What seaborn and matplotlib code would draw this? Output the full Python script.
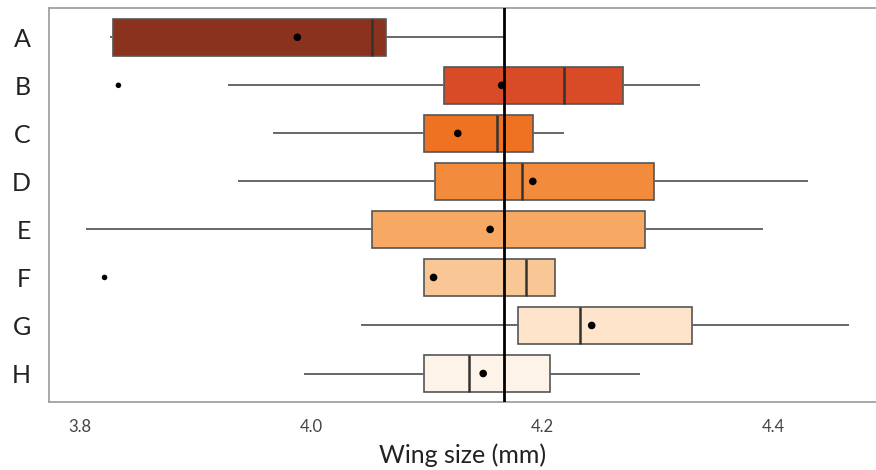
import pandas as pd
import seaborn as sns
import numpy as np
import matplotlib.pyplot as plt

# five number summaries (whisker low, q1, median, q3, whisker high)
groups = ['A', 'B', 'C', 'D', 'E', 'F', 'G', 'H']
whisk_lo = [3.826, 3.928, 3.967, 3.937, 3.805, 4.098, 4.043, 3.994]
q1 = [3.828, 4.115, 4.098, 4.107, 4.053, 4.098, 4.179, 4.098]
median = [4.053, 4.219, 4.161, 4.183, 4.167, 4.186, 4.233, 4.137]
q3 = [4.065, 4.270, 4.192, 4.297, 4.289, 4.211, 4.330, 4.207]
whisk_hi = [4.168, 4.337, 4.219, 4.430, 4.391, 4.211, 4.466, 4.285]
means = [3.988, 4.165, 4.127, 4.192, 4.155, 4.106, 4.243, 4.149]
outlier_group = ['B', 'F']
outlier_val = [3.833, 3.821]
ref_line = 4.167

colors = ['#8B321E', '#D94A26', '#EE7222', '#F38B3C', '#F7A862',
          '#F9C795', '#FEE4CB', '#FEF3E9']

rows = []
for i, g in enumerate(groups):
    for v in [whisk_lo[i], q1[i], median[i], q3[i], whisk_hi[i]]:
        rows.append({'group': g, 'size': v})
dta = pd.DataFrame(rows)
mean_df = pd.DataFrame({'group': groups, 'size': means})
out_df = pd.DataFrame({'group': outlier_group, 'size': outlier_val})

sns.set_style('white')
plt.rcParams['font.family'] = ['Lato', 'DejaVu Sans']

fig = plt.figure(figsize=(8.76, 4.70), dpi=100)
ax = fig.add_axes([0.0556, 0.144, 0.944, 0.838])

sns.boxplot(data=dta, x='size', y='group', hue='group', palette=colors,
            order=groups, width=0.76, whis=(0, 100), showfliers=False,
            saturation=1, legend=False, ax=ax, linecolor='#555555', linewidth=1.2,
            medianprops={'color': '#333333', 'linewidth': 1.8},
            whiskerprops={'color': '#666666', 'linewidth': 1.4},
            capprops={'linewidth': 0})
ax.axvline(ref_line, color='black', linewidth=2, zorder=5)
sns.scatterplot(data=mean_df, x='size', y='group', color='black', s=30,
                edgecolor='none', ax=ax, zorder=6)
sns.scatterplot(data=out_df, x='size', y='group', color='black', s=16,
                edgecolor='none', ax=ax, zorder=6)

ax.set_xlim(3.7726, 4.489)
ax.set_ylim(7.6, -0.6)
ax.set_xticks([3.8, 4.0, 4.2, 4.4])
ax.set_xticklabels(['3.8', '4.0', '4.2', '4.4'], fontsize=12, color='#444444')
ax.tick_params(axis='y', labelsize=18, labelcolor='#222222', length=5, color='#888888', pad=8)
ax.tick_params(axis='x', length=4, color='#888888', pad=8)
ax.set_ylabel('')
ax.set_xlabel('Wing size (mm)', fontsize=18, color='#222222', labelpad=6)
for s in ['left', 'bottom', 'top']:
    ax.spines[s].set_color('#999999')
    ax.spines[s].set_linewidth(1.2)
ax.spines['right'].set_visible(False)

plt.savefig('out.png', dpi=100)
